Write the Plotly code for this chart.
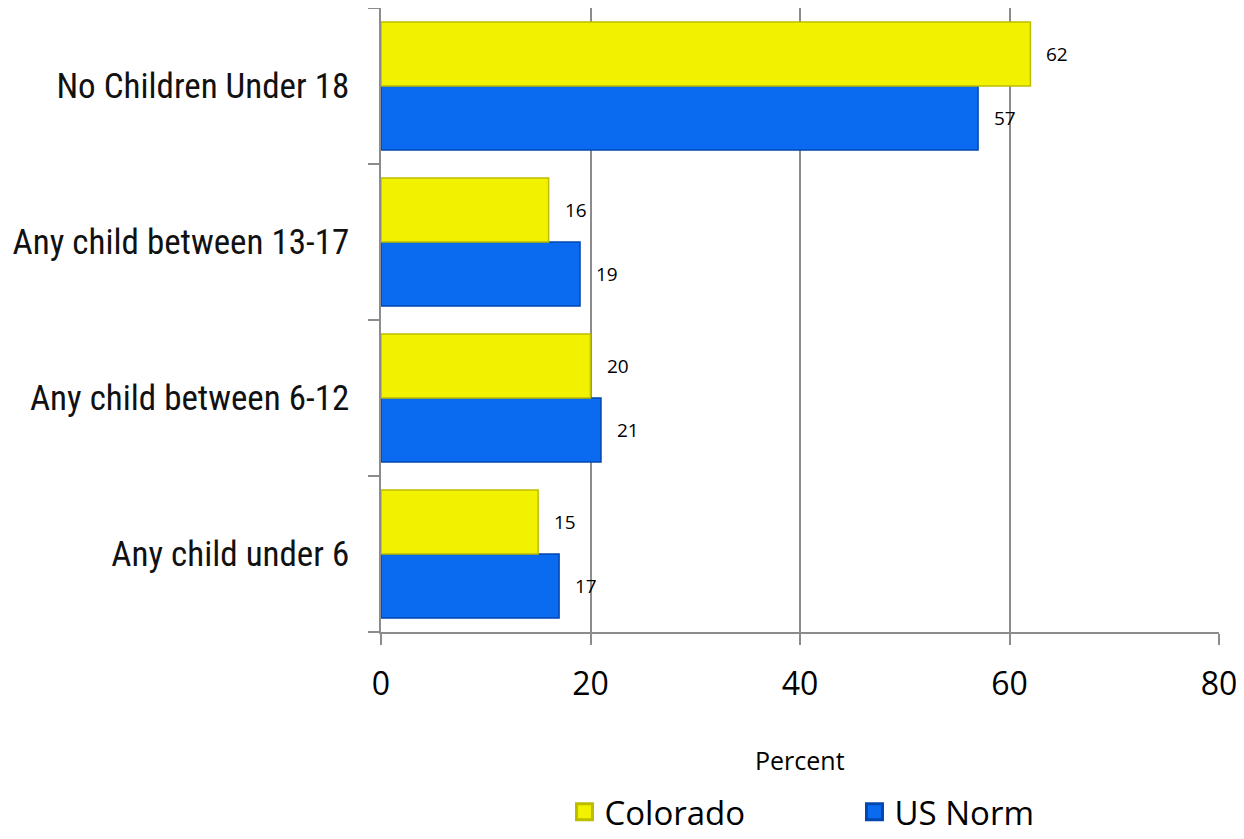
import plotly.graph_objects as go

categories = ["Any child under 6", "Any child between 6-12",
              "Any child between 13-17", "No Children Under 18"]
colorado = [15, 20, 16, 62]
us_norm = [17, 21, 19, 57]
x_ticks = [0, 20, 40, 60, 80]

YELLOW = "#F2F200"
YELLOW_EDGE = "#BDBD00"
BLUE = "#0A6AF0"
BLUE_EDGE = "#0048B0"

fig = go.Figure()
# US Norm first so it sits below Colorado inside each group
fig.add_trace(go.Bar(y=categories, x=us_norm, orientation="h", name="US Norm",
                     marker=dict(color=BLUE, line=dict(color=BLUE_EDGE, width=1.5)),
                     showlegend=False))
fig.add_trace(go.Bar(y=categories, x=colorado, orientation="h", name="Colorado",
                     marker=dict(color=YELLOW, line=dict(color=YELLOW_EDGE, width=1.5)),
                     showlegend=False))

# legend-only entries with larger square swatches
fig.add_trace(go.Scatter(x=[None], y=[None], mode="markers", name="Colorado",
                         marker=dict(symbol="square", size=16, color=YELLOW,
                                     line=dict(color=YELLOW_EDGE, width=3)),
                         legendrank=1))
fig.add_trace(go.Scatter(x=[None], y=[None], mode="markers", name="US Norm",
                         marker=dict(symbol="square", size=16, color=BLUE,
                                     line=dict(color=BLUE_EDGE, width=3)),
                         legendrank=2))

label_font = dict(family="Open Sans", size=19, color="#000000")
for cat, v in zip(categories, colorado):
    fig.add_annotation(x=v, y=cat, text=str(v), showarrow=False, xanchor="left",
                       xshift=14, yshift=32, font=label_font)
for cat, v in zip(categories, us_norm):
    fig.add_annotation(x=v, y=cat, text=str(v), showarrow=False, xanchor="left",
                       xshift=14, yshift=-32, font=label_font)

fig.add_annotation(x=0.5, y=-0.205, xref="paper", yref="paper", text="Percent",
                   showarrow=False, yanchor="middle",
                   font=dict(family="Open Sans", size=25, color="#000000"))

fig.update_layout(
    width=1236, height=831,
    margin=dict(l=373, r=25, t=0, b=207, autoexpand=False),
    paper_bgcolor="white", plot_bgcolor="white",
    barmode="group", bargap=0.18, bargroupgap=0,
    legend=dict(orientation="h", x=0.565, xanchor="center", y=-0.288, yanchor="middle",
                font=dict(family="Open Sans", size=33, color="#000000"),
                entrywidth=245, itemwidth=30),
    xaxis=dict(range=[0, 80], tickvals=x_ticks, showgrid=True, gridcolor="#8C8C8C",
               gridwidth=1.5, zeroline=False, showline=True, linecolor="#8C8C8C",
               linewidth=1.5, ticks="outside", ticklen=11, tickcolor="#8C8C8C",
               tickwidth=1.5, ticklabelstandoff=12,
               tickfont=dict(family="Open Sans", size=32, color="#000000")),
    yaxis=dict(categoryorder="array", categoryarray=categories, tickson="boundaries",
               ticks="outside", ticklen=11, tickcolor="#8C8C8C", tickwidth=1.5,
               showline=True, linecolor="#8C8C8C", linewidth=1.5, showgrid=False,
               zeroline=False, ticklabelstandoff=23,
               tickfont=dict(family="Liberation Sans Narrow, Arial Narrow, Roboto Condensed, sans-serif",
                             size=35, color="#111111")),
)

fig.write_html("out.html")
